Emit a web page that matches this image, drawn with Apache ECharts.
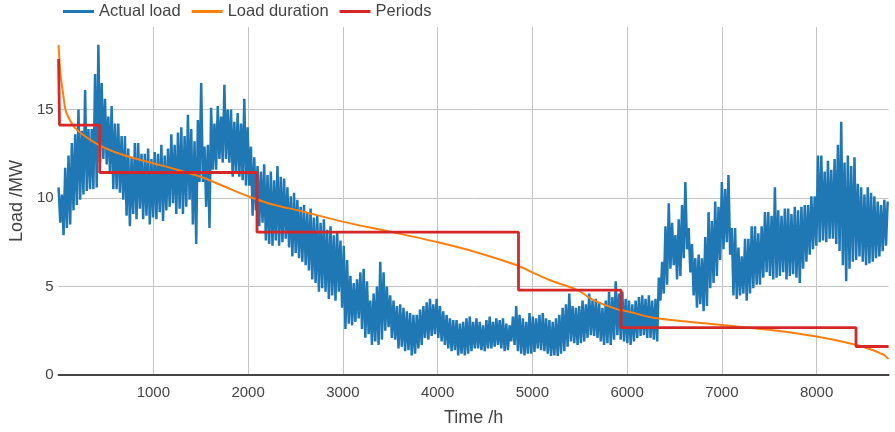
<!DOCTYPE html>
<html>
<head>
<meta charset="utf-8">
<script src="https://cdn.jsdelivr.net/npm/echarts@6/dist/echarts.min.js"></script>
<style>
html,body{margin:0;padding:0;background:#fff;}
#chart{width:895px;height:432px;}
</style>
</head>
<body>
<div id="chart"></div>
<script>
// ---- Data ----
// Actual load: for every 35 h window, the top and the bottom of the plotted band
const loadWindowHours = 35;
const loadTops = [
10.6,10.2,11.7,12.4,13.1,13.6,15.0,13.8,16.1,13.9,
13.9,17.0,18.65,16.5,15.6,14.6,15.2,14.2,14.2,13.5,
13.5,12.8,12.3,13.1,13.1,12.5,12.5,12.8,12.2,12.6,
12.5,13.0,12.4,12.8,13.6,13.0,13.7,14.0,13.5,14.7,
13.9,13.2,14.4,16.5,12.9,13.0,15.1,14.2,15.2,14.6,
16.4,15.0,15.0,14.3,14.8,14.2,15.6,14.0,12.9,12.3,
11.8,11.5,11.9,11.3,11.5,11.0,11.8,11.2,11.1,10.6,
10.1,10.3,9.9,9.5,9.6,9.2,9.4,8.9,9.0,8.6,
8.8,8.2,8.4,7.9,8.1,7.6,7.3,6.5,5.6,5.2,
5.4,5.8,6.0,5.3,4.2,4.6,5.0,6.4,5.8,5.0,
4.5,4.2,3.9,4.0,3.8,3.6,3.5,3.4,3.4,3.7,
3.9,4.1,4.3,4.0,4.3,3.9,3.6,3.4,3.2,3.1,
3.1,2.9,3.0,3.2,3.3,3.0,3.2,3.0,2.8,3.1,
3.3,3.0,3.2,3.1,3.2,2.9,2.8,3.3,3.9,3.4,
3.2,3.0,3.5,3.3,3.2,3.4,3.5,3.2,3.1,3.0,
3.2,3.4,3.8,4.0,4.6,3.9,3.8,3.9,4.2,4.0,
4.6,4.2,4.3,4.1,3.8,4.2,4.7,4.4,5.3,4.6,
4.7,4.3,4.2,4.0,4.2,4.4,4.5,4.3,4.5,4.2,
4.3,5.5,6.4,8.4,9.7,8.6,7.9,8.8,9.6,10.9,
8.3,7.4,6.6,6.8,6.6,7.8,9.2,8.7,9.8,9.5,
10.9,10.5,11.3,8.3,8.3,7.2,6.7,7.7,7.7,8.4,
8.4,8.0,8.4,9.2,9.2,9.0,10.6,9.3,9.0,9.4,
9.4,9.1,9.5,9.3,9.5,9.6,9.6,10.1,10.1,12.4,
12.4,11.5,12.1,11.6,12.2,13.0,14.3,12.0,12.4,11.8,
12.3,10.8,10.6,10.2,10.6,10.3,10.1,9.8,9.6,9.9,
9.8
];
const loadBottoms = [
8.6,7.9,8.3,8.5,9.3,9.6,9.9,10.2,10.4,10.5,
10.5,10.6,12.0,12.2,11.9,11.4,10.5,10.5,10.3,9.9,
9.0,8.4,9.1,8.8,9.4,8.8,9.0,8.5,8.9,8.8,
9.2,8.7,9.3,9.5,9.7,9.1,9.4,9.1,9.5,9.9,
8.5,7.4,10.9,10.9,9.5,8.3,11.6,11.6,12.2,12.0,
12.2,12.0,11.2,11.4,11.2,11.0,10.7,10.7,9.0,9.3,
8.4,8.6,7.6,7.4,7.3,7.6,7.3,7.5,7.7,7.2,
6.7,6.9,6.6,6.4,6.2,5.9,5.4,5.2,4.7,4.9,
4.7,4.3,4.5,4.2,4.7,3.8,2.6,2.9,2.8,3.0,
3.2,2.6,2.1,2.3,1.7,1.9,1.7,2.0,2.5,2.7,
2.1,2.0,1.5,1.6,1.35,1.4,1.1,1.2,1.5,1.7,
2.1,2.0,2.2,2.3,2.1,1.9,1.7,1.5,1.35,1.4,
1.1,1.2,1.1,1.2,1.35,1.5,1.5,1.4,1.35,1.5,
1.5,1.6,1.7,1.5,1.35,1.4,1.9,1.7,1.35,1.2,
1.1,1.2,1.2,1.3,1.5,1.4,1.35,1.2,1.07,1.1,
1.07,1.2,1.35,1.6,1.9,1.8,1.7,1.8,1.9,2.1,
2.25,2.2,2.1,1.9,1.7,1.8,1.7,2.0,2.25,2.0,
1.9,1.8,1.7,1.9,2.1,2.2,2.25,2.1,2.1,2.0,
1.9,4.2,4.6,5.1,6.0,6.2,5.4,5.6,6.6,7.1,
5.8,4.5,3.8,4.0,3.6,3.9,4.9,5.2,5.6,6.5,
7.1,7.5,6.8,4.5,4.3,4.5,4.6,4.2,4.6,4.9,
5.1,5.1,5.5,5.8,5.6,5.4,5.5,5.6,5.8,5.4,
5.6,5.7,5.5,5.2,6.0,6.4,6.8,7.1,7.3,7.5,
7.6,7.5,7.7,7.7,7.4,7.0,6.2,5.3,6.0,6.4,
6.5,6.7,6.4,6.2,6.3,6.4,6.6,6.7,7.0,7.3,
7.3
];

// Load duration curve (sorted load)
const durationHours  = [0,20,50,72,100,160,250,441,700,970,1250,1497,1750,2000,2250,2552,3008,3500,3993,4400,4836,5000,5188,5475,5645,5892,6000,6313,7000,7500,8001,8423,8600,8668,8720,8760];
const durationValues = [18.65,17.0,15.8,15.0,14.6,14.05,13.6,12.95,12.4,12.0,11.6,11.2,10.65,10.1,9.65,9.27,8.65,8.1,7.51,6.95,6.2,5.8,5.35,4.8,4.23,3.72,3.6,3.2,2.83,2.55,2.17,1.70,1.4,1.24,1.1,0.9];

// Periods (start hour and level)
const periodStarts = [0,10,434,2094,4854,5937,8416];
const periodLevels = [17.85,14.12,11.44,8.07,4.79,2.68,1.61];
const totalHours = 8760;

const seriesNames = ['Actual load','Load duration','Periods'];
const axisTitles = {x:'Time /h', y:'Load /MW'};

// ---- Build series data ----
const loadData = [];
loadTops.forEach((top,i)=>{
  const t = i*loadWindowHours;
  loadData.push([t, top]);
  const tb = t + loadWindowHours/2;
  if (tb <= totalHours) loadData.push([tb, loadBottoms[i]]);
});
const durationData = durationHours.map((h,i)=>[h, durationValues[i]]);
const periodData = [];
periodStarts.forEach((s,i)=>{
  const e = i < periodStarts.length-1 ? periodStarts[i+1] : totalHours;
  periodData.push([s, periodLevels[i]]);
  periodData.push([e, periodLevels[i]]);
});

const font = '"Liberation Sans", Arial, sans-serif';
const textColor = '#444';
const gridColor = '#c4c4c4';

const chart = echarts.init(document.getElementById('chart'), null, {renderer:'canvas'});
chart.setOption({
  animation:false,
  backgroundColor:'#fff',
  textStyle:{fontFamily:font},
  legend:{
    left:63, top:3, padding:0,
    icon:'rect', itemWidth:31, itemHeight:3, itemGap:11,
    textStyle:{fontSize:16.5, color:textColor, fontFamily:font},
    data:seriesNames
  },
  grid:{left:58.2, right:6.4, top:27, bottom:55, containLabel:false},
  xAxis:{
    type:'value', min:0, max:totalHours, interval:1000,
    name:axisTitles.x, nameLocation:'middle', nameGap:34,
    nameTextStyle:{fontSize:18, color:textColor, fontFamily:font},
    axisLine:{show:true, onZero:false, lineStyle:{color:'#444', width:2}},
    axisTick:{show:false},
    axisLabel:{fontSize:15, color:textColor, margin:10, showMinLabel:false, showMaxLabel:false, fontFamily:font,
      formatter:(v)=>String(v)},
    splitLine:{show:true, showMinLine:false, showMaxLine:false, lineStyle:{color:gridColor, width:1}}
  },
  yAxis:{
    type:'value', min:0, max:19.66, interval:5,
    name:axisTitles.y, nameLocation:'middle', nameGap:31,
    nameTextStyle:{fontSize:18, color:textColor, fontFamily:font},
    axisLine:{show:false},
    axisTick:{show:false},
    axisLabel:{fontSize:15, color:textColor, margin:5, showMaxLabel:false, fontFamily:font},
    splitLine:{show:true, showMinLine:false, showMaxLine:false, lineStyle:{color:gridColor, width:1}}
  },
  series:[
    {name:seriesNames[0], type:'line', data:loadData, showSymbol:false, symbol:'none',
     lineStyle:{color:'#1f77b4', width:2.5}, itemStyle:{color:'#1f77b4'}, z:2},
    {name:seriesNames[1], type:'line', data:durationData, showSymbol:false, symbol:'none', smooth:0.3,
     lineStyle:{color:'#ff7f0e', width:2}, itemStyle:{color:'#ff7f0e'}, z:3},
    {name:seriesNames[2], type:'line', data:periodData, showSymbol:false, symbol:'none',
     lineStyle:{color:'#d62728', width:2.8}, itemStyle:{color:'#d62728'}, z:4}
  ]
});
</script>
</body>
</html>
